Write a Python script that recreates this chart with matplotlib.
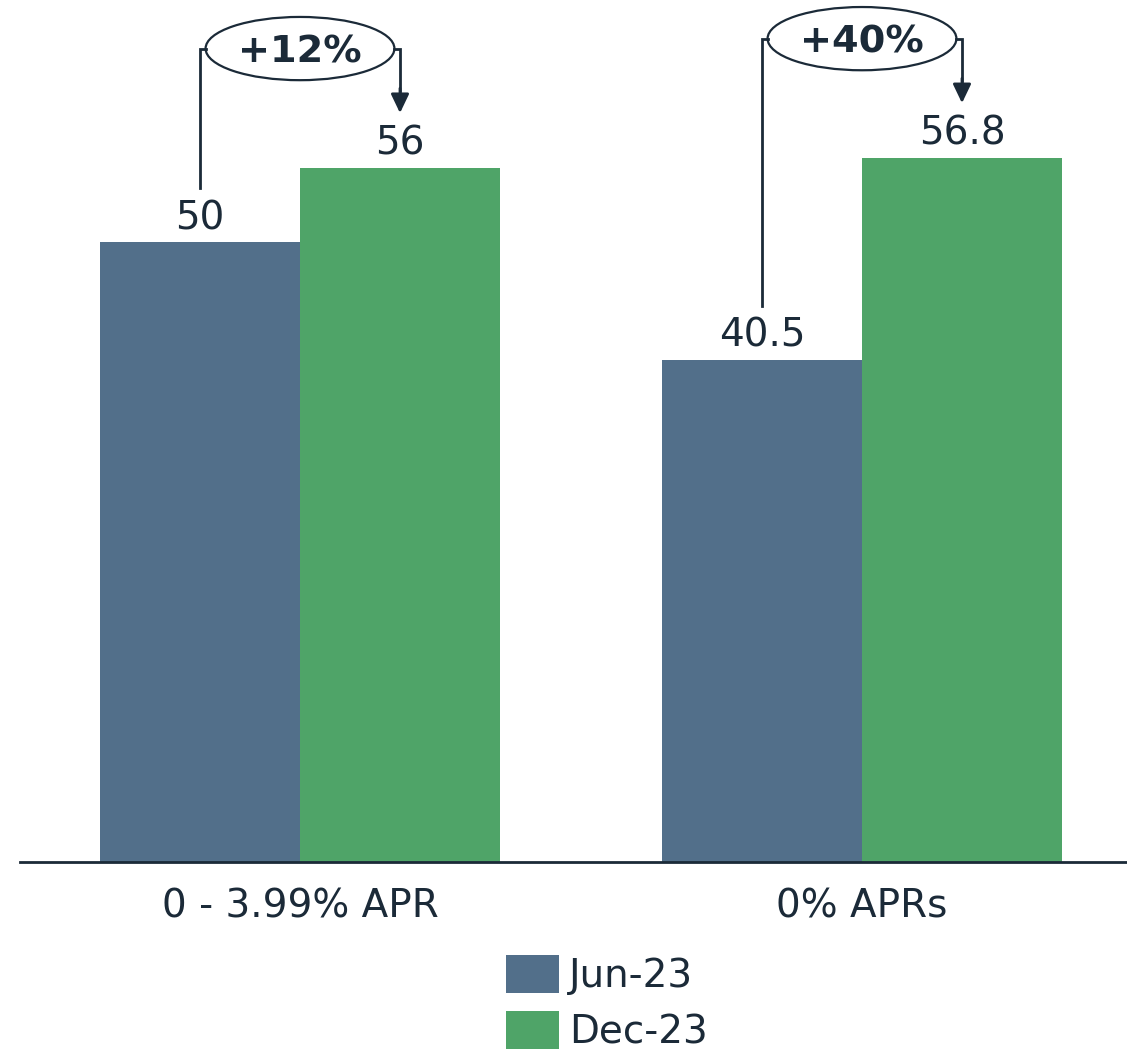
import matplotlib
matplotlib.use("Agg")
import matplotlib.pyplot as plt
from matplotlib.patches import Ellipse
import numpy as np

categories = ["0 - 3.99% APR", "0% APRs"]
series_names = ["Jun-23", "Dec-23"]
jun23 = [50, 40.5]
dec23 = [56, 56.8]
change_labels = ["+12%", "+40%"]

blue = "#526F8A"
green = "#4FA468"
ink = "#1B2A38"

plt.rcParams["font.family"] = ["DejaVu Sans"]

fig = plt.figure(figsize=(11.27, 10.5), dpi=100)
ax = fig.add_axes([20 / 1127, 188 / 1050, 1107 / 1127, 862 / 1050])

x = np.arange(len(categories))
w = 200 / 562
b1 = ax.bar(x - w / 2, jun23, w, color=blue, label=series_names[0])
b2 = ax.bar(x + w / 2, dec23, w, color=green, label=series_names[1])

ax.set_xlim(-280 / 562, 1 + 265 / 562)
ax.set_ylim(0, 862 / 12.4)

for bars, vals in ((b1, jun23), (b2, dec23)):
    for rect, v in zip(bars, vals):
        ax.annotate(f"{v:g}", (rect.get_x() + rect.get_width() / 2, v),
                    xytext=(0, 13), textcoords="offset pixels",
                    ha="center", va="baseline", fontsize=28, color=ink)

# change brackets: from the Jun-23 label up through the oval and down to Dec-23
for i, (a, b, lab) in enumerate(zip(jun23, dec23, change_labels)):
    xl = x[i] - w / 2
    xr = x[i] + w / 2
    top = max(a, b) + 9.6
    ew, eh = 0.336, 5.1
    ax.plot([xl, xl, x[i] - ew / 2], [a + 4.35, top, top], color=ink, lw=2,
            solid_joinstyle="miter")
    ax.plot([x[i] + ew / 2, xr, xr], [top, top, b + 6.2], color=ink, lw=2,
            solid_joinstyle="miter")
    ax.annotate("", xy=(xr, b + 4.4), xytext=(xr, b + 6.4),
                arrowprops=dict(arrowstyle="-|>,head_length=1.15,head_width=0.55",
                                color=ink, lw=2, shrinkA=0, shrinkB=0))
    ax.add_patch(Ellipse((x[i], top), ew, eh, facecolor="white",
                         edgecolor=ink, lw=1.6))
    ax.annotate(lab, (x[i], top), xytext=(0, -4), textcoords="offset pixels",
                ha="center", va="center", fontsize=27.5,
                fontweight="bold", color=ink)

for s in ("top", "right", "left"):
    ax.spines[s].set_visible(False)
ax.spines["bottom"].set_color(ink)
ax.spines["bottom"].set_linewidth(2)
ax.set_yticks([])
ax.set_xticks(x)
ax.set_xticklabels(categories, fontsize=28, color=ink)
ax.tick_params(axis="x", length=0, pad=18)

fig.legend(handles=[b1, b2], labels=series_names, loc="upper left",
           bbox_to_anchor=(479 / 1127, 1 - 928 / 1050), frameon=False,
           fontsize=28, labelcolor=ink, handlelength=1.36, handleheight=1.12,
           handletextpad=0.25, labelspacing=0.4, borderpad=0.2)

fig.savefig("out.png", dpi=100, facecolor="white")
